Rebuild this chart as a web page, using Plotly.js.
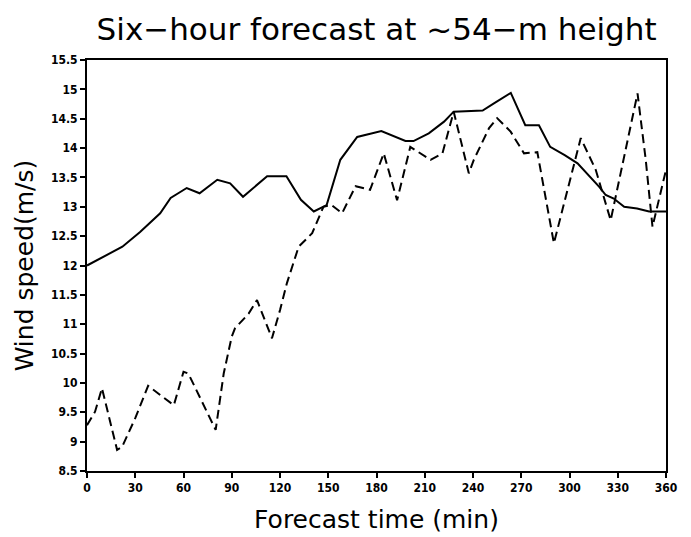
<!DOCTYPE html>
<html>
<head>
<meta charset="utf-8">
<script src="https://cdn.plot.ly/plotly-3.0.1.min.js"></script>
<style>html,body{margin:0;padding:0;background:#fff;}#chart{width:691px;height:537px;}</style>
</head>
<body>
<div id="chart"></div>
<script>
// Forecast (solid) line vertices: time (min), wind speed (m/s)
var solidTime = [0, 8, 16, 22, 33, 45.5, 52, 62, 70, 81, 89, 97, 112, 124, 133, 141, 149, 157.5, 168, 183, 198, 203, 212.5, 222, 228, 246, 253, 263.5, 272.5, 281, 288, 297, 305, 312, 318.5, 322.5, 327.5, 334, 342, 349.5, 360];
var solidWind = [12.0, 12.12, 12.23, 12.32, 12.57, 12.89, 13.15, 13.32, 13.23, 13.46, 13.40, 13.17, 13.52, 13.52, 13.12, 12.92, 13.03, 13.80, 14.19, 14.29, 14.12, 14.12, 14.25, 14.45, 14.62, 14.64, 14.76, 14.94, 14.39, 14.39, 14.02, 13.88, 13.74, 13.54, 13.34, 13.20, 13.14, 13.00, 12.97, 12.92, 12.92];

// Observed (dashed) line vertices
var dashedTime = [0, 5, 9.3, 18.7, 21.8, 30, 38, 54, 60, 63, 80, 85, 90, 92, 100.5, 105.7, 115, 120, 124.3, 131.6, 140, 147, 152, 158.6, 167, 176, 184.5, 192.8, 201, 213.6, 221, 228, 237.4, 240.5, 250, 255, 263.4, 271.7, 280, 290.3, 307, 316.3, 325.6, 342.3, 347.4, 351.6, 360];
var dashedWind = [9.28, 9.51, 9.91, 8.86, 8.91, 9.40, 9.95, 9.62, 10.19, 10.16, 9.20, 10.16, 10.79, 10.93, 11.18, 11.41, 10.76, 11.24, 11.70, 12.32, 12.55, 13.00, 13.03, 12.89, 13.35, 13.29, 13.91, 13.11, 14.02, 13.80, 13.91, 14.62, 13.57, 13.80, 14.34, 14.51, 14.28, 13.91, 13.93, 12.38, 14.17, 13.63, 12.77, 14.93, 13.80, 12.66, 13.63];

var xTickVals = [0, 30, 60, 90, 120, 150, 180, 210, 240, 270, 300, 330, 360];
var xTickText = ['0', '30', '60', '90', '120', '150', '180', '210', '240', '270', '300', '330', '360'];
var yTickVals = [8.5, 9, 9.5, 10, 10.5, 11, 11.5, 12, 12.5, 13, 13.5, 14, 14.5, 15, 15.5];
var yTickText = ['8.5', '9', '9.5', '10', '10.5', '11', '11.5', '12', '12.5', '13', '13.5', '14', '14.5', '15', '15.5'];

var traces = [
  {x: solidTime, y: solidWind, mode: 'lines', type: 'scatter',
   line: {color: '#000', width: 2}, showlegend: false, hoverinfo: 'skip'},
  {x: dashedTime, y: dashedWind, mode: 'lines', type: 'scatter',
   line: {color: '#000', width: 2, dash: '9px,5px'}, showlegend: false, hoverinfo: 'skip'}
];

var tickFont = {family: 'Liberation Sans Narrow, DejaVu Sans Condensed, sans-serif', size: 12, color: '#000', weight: 'bold'};

var layout = {
  width: 691, height: 537,
  paper_bgcolor: '#fff', plot_bgcolor: '#fff',
  margin: {l: 87, r: 25, t: 60, b: 66, pad: 0},
  title: {text: 'Six\u2212hour forecast at ~54\u2212m height',
          font: {family: 'DejaVu Sans, sans-serif', size: 31, color: '#000'},
          x: 0.545, xanchor: 'center', y: 0.945, yanchor: 'middle'},
  xaxis: {
    range: [0, 360], tickvals: xTickVals, ticktext: xTickText,
    showgrid: false, zeroline: false, showline: true, mirror: true,
    linecolor: '#000', linewidth: 2, ticks: 'outside', ticklen: 5, tickwidth: 2, tickcolor: '#000',
    tickfont: tickFont,
    title: {text: 'Forecast time (min)', font: {family: 'DejaVu Sans, sans-serif', size: 25, color: '#000'}, standoff: 16}
  },
  yaxis: {
    range: [8.5, 15.5], tickvals: yTickVals, ticktext: yTickText,
    showgrid: false, zeroline: false, showline: true, mirror: true,
    linecolor: '#000', linewidth: 2, ticks: 'outside', ticklen: 5, tickwidth: 2, tickcolor: '#000',
    tickfont: tickFont,
    title: {text: 'Wind speed(m/s)', font: {family: 'DejaVu Sans, sans-serif', size: 25, color: '#000'}, standoff: 10}
  }
};

Plotly.newPlot('chart', traces, layout, {staticPlot: true, displayModeBar: false});
</script>
</body>
</html>
